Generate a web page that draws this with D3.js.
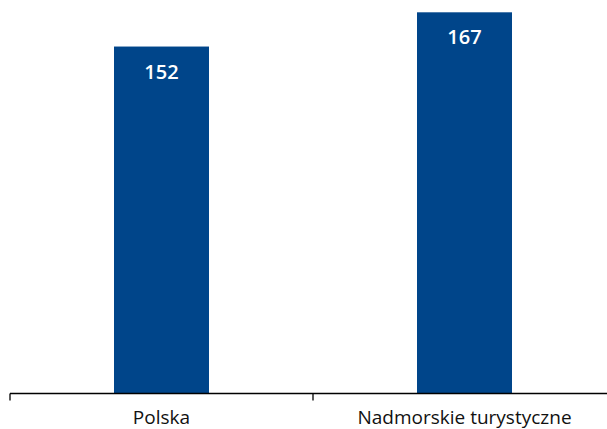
<!DOCTYPE html>
<html><head><meta charset="utf-8">
<script src="https://cdn.jsdelivr.net/npm/d3@7"></script>
<style>body{margin:0;background:#fff}svg{display:block}</style>
</head><body>
<svg id="c" width="607" height="429"></svg>
<script>
const categories = ["Polska", "Nadmorskie turystyczne"];
const values = [152, 167];

const svg = d3.select("#c");
const baseY = 393.5;
const x = d3.scaleBand().domain(categories).range([10, 616]).paddingInner(0.6865).paddingOuter(0.34325);
const y = d3.scaleLinear().domain([0, 167]).range([baseY, 12.3]);

const data = categories.map((c, i) => ({c, v: values[i]}));

svg.selectAll("rect.bar").data(data).join("rect")
  .attr("class", "bar")
  .attr("x", d => x(d.c)).attr("width", x.bandwidth())
  .attr("y", d => y(d.v)).attr("height", d => y(0) - y(d.v))
  .attr("fill", "#00458a");

svg.selectAll("text.val").data(data).join("text")
  .attr("class", "val")
  .attr("x", d => x(d.c) + x.bandwidth() / 2)
  .attr("y", d => y(d.v) + 32)
  .attr("text-anchor", "middle")
  .attr("fill", "#fff")
  .attr("font-family", "Open Sans, sans-serif")
  .attr("font-weight", 600)
  .attr("font-size", 20)
  .text(d => d.v);

// axis
const g = svg.append("g");
g.append("line").attr("x1", 10).attr("x2", 607).attr("y1", baseY).attr("y2", baseY)
  .attr("stroke", "#000").attr("stroke-width", 1.5);
const bounds = [x.range()[0]].concat(categories.map(c => x(c) + x.bandwidth() / 2 + x.step() / 2));
g.selectAll("line.tick").data(bounds).join("line").attr("class", "tick")
  .attr("x1", d => d).attr("x2", d => d).attr("y1", baseY).attr("y2", baseY + 7)
  .attr("stroke", "#000").attr("stroke-width", 1.3);

g.selectAll("text.cat").data(categories).join("text").attr("class", "cat")
  .attr("x", d => x(d) + x.bandwidth() / 2)
  .attr("y", 423.5)
  .attr("text-anchor", "middle")
  .attr("fill", "#111")
  .attr("font-family", "Open Sans, sans-serif")
  .attr("font-size", 19)
  .text(d => d);
</script>
</body></html>
